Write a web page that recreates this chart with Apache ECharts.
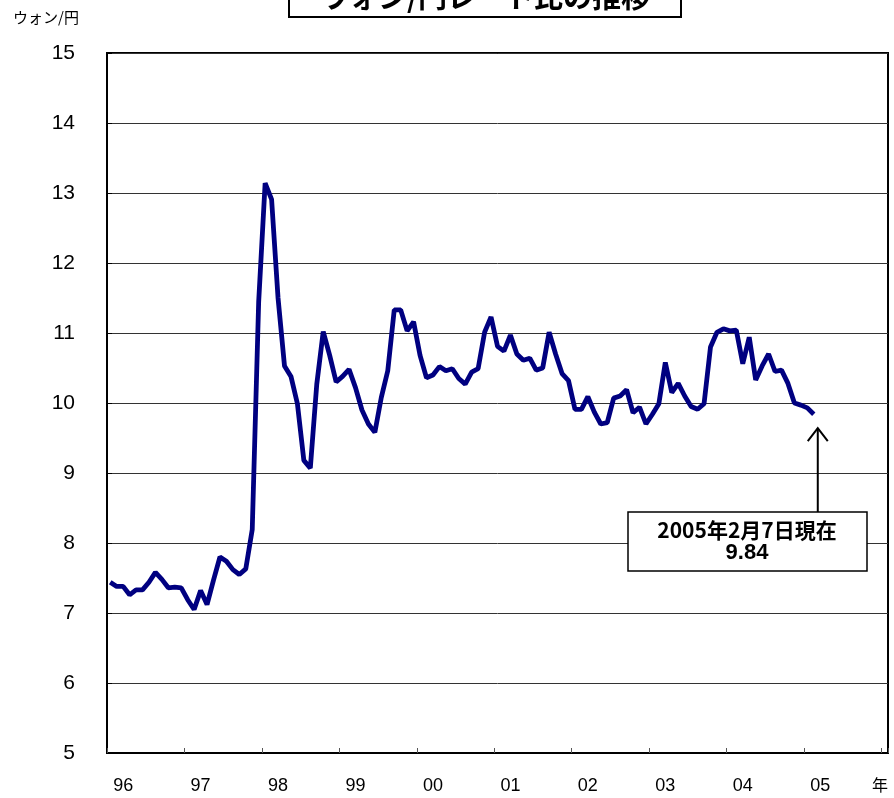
<!DOCTYPE html>
<html>
<head>
<meta charset="utf-8">
<script src="https://cdn.jsdelivr.net/npm/echarts@6/dist/echarts.min.js"></script>
<style>
  html, body { margin: 0; padding: 0; background: #fff; }
  #chart { width: 894px; height: 798px; }
</style>
</head>
<body>
<div id="chart"></div>
<script>
// 年ラベル (x軸)
const years = ['96', '97', '98', '99', '00', '01', '02', '03', '04', '05']

// ウォン/円 月次 (1996年1月〜2005年2月)
const rate1996 = [7.44, 7.38, 7.38, 7.26, 7.33, 7.33, 7.44, 7.58, 7.48, 7.36, 7.37, 7.36]
const rate1997 = [7.19, 7.05, 7.32, 7.12, 7.47, 7.80, 7.74, 7.62, 7.55, 7.63, 8.19, 11.45]
const rate1998 = [13.14, 12.91, 11.50, 10.53, 10.38, 9.99, 9.18, 9.07, 10.27, 11.02, 10.68, 10.30]
const rate1999 = [10.38, 10.48, 10.22, 9.90, 9.70, 9.58, 10.08, 10.46, 11.33, 11.33, 11.03, 11.16]
const rate2000 = [10.68, 10.36, 10.40, 10.52, 10.46, 10.49, 10.35, 10.27, 10.44, 10.49, 11.01, 11.23]
const rate2001 = [10.81, 10.74, 10.97, 10.70, 10.61, 10.64, 10.47, 10.50, 11.01, 10.70, 10.42, 10.32]
const rate2002 = [9.91, 9.91, 10.09, 9.87, 9.70, 9.72, 10.07, 10.10, 10.19, 9.86, 9.94, 9.70]
const rate2003 = [9.84, 9.99, 10.58, 10.15, 10.28, 10.10, 9.95, 9.91, 9.99, 10.80, 11.01, 11.06]
const rate2004 = [11.03, 11.04, 10.56, 10.94, 10.33, 10.53, 10.70, 10.45, 10.47, 10.28, 10.00, 9.97]
const rate2005 = [9.93, 9.84]

const yTicks = [5, 6, 7, 8, 9, 10, 11, 12, 13, 14, 15]

const rates = [].concat(rate1996, rate1997, rate1998, rate1999, rate2000,
  rate2001, rate2002, rate2003, rate2004, rate2005)

// 1996/01 〜 2006/01 の月カテゴリ
let months = []
for (let y = 1996; y <= 2006; y++) {
  for (let m = 1; m <= 12; m++) {
    if (y === 2006 && m > 1) break
    months.push(y + '/' + (m < 10 ? '0' + m : m))
  }
}

const numFont = '"Liberation Sans Narrow", "Liberation Sans", Arial, sans-serif'
const jpFont = '"Noto Sans CJK JP", sans-serif'

let chart = echarts.init(document.getElementById('chart'))

chart.setOption({
  animation: false,
  backgroundColor: '#fff',
  grid: {
    left: 107,
    right: 6,
    top: 53,
    bottom: 45,
    show: true,
    borderColor: '#000',
    borderWidth: 2
  },
  xAxis: {
    type: 'category',
    data: months,
    boundaryGap: true,
    axisLine: { lineStyle: { color: '#000', width: 2 } },
    axisTick: {
      show: true,
      inside: true,
      length: 5,
      interval: function (i) { return i % 12 === 0 },
      lineStyle: { color: '#555' }
    },
    axisLabel: {
      interval: function (i) { return i % 12 === 2 },
      formatter: function (v, i) { return years[Math.floor(i / 12)] || '' },
      color: '#000',
      fontSize: 18,
      fontFamily: numFont,
      margin: 24
    },
    splitLine: { show: false }
  },
  yAxis: {
    type: 'value',
    min: yTicks[0],
    max: yTicks[yTicks.length - 1],
    interval: 1,
    axisLine: { show: true, lineStyle: { color: '#000', width: 2 } },
    axisTick: { show: true, inside: true, length: 5, lineStyle: { color: '#000' } },
    axisLabel: {
      color: '#000',
      fontSize: 21,
      fontFamily: numFont,
      margin: 32
    },
    splitLine: { lineStyle: { color: '#333', width: 1 } }
  },
  series: [
    {
      type: 'line',
      data: rates,
      showSymbol: false,
      lineStyle: { color: '#000080', width: 4.8 },
      itemStyle: { color: '#000080' }
    }
  ]
})

// 最新値への矢印と注記
let last = chart.convertToPixel({ seriesIndex: 0 }, [rates.length - 1, rates[rates.length - 1]])
let ax = last[0] + 4
let tipY = last[1] + 14

chart.setOption({
  graphic: [
    {
      type: 'rect',
      shape: { x: 289, y: -20, width: 392, height: 37 },
      style: { fill: '#fff', stroke: '#000', lineWidth: 2 }
    },
    {
      type: 'text',
      x: 485,
      y: -3,
      style: {
        text: 'ウォン/円レート比の推移',
        font: 'bold 29px ' + jpFont,
        fill: '#000',
        align: 'center',
        verticalAlign: 'middle'
      }
    },
    {
      type: 'text',
      x: 13,
      y: 10,
      style: { text: 'ウォン/円', font: '15px ' + jpFont, fill: '#000' }
    },
    {
      type: 'text',
      x: 872,
      y: 777,
      style: { text: '年', font: '16px ' + jpFont, fill: '#000' }
    },
    {
      type: 'polyline',
      shape: { points: [[ax, tipY], [ax, 512]] },
      style: { stroke: '#000', lineWidth: 2, fill: null }
    },
    {
      type: 'polyline',
      shape: { points: [[ax - 10, tipY + 13], [ax, tipY], [ax + 10, tipY + 13]] },
      style: { stroke: '#000', lineWidth: 2, fill: null }
    },
    {
      type: 'rect',
      shape: { x: 628, y: 512, width: 239, height: 59 },
      style: { fill: '#fff', stroke: '#000', lineWidth: 1.5 }
    },
    {
      type: 'text',
      x: 747,
      y: 530,
      style: {
        text: '2005年2月7日現在',
        font: 'bold 21px ' + jpFont,
        fill: '#000',
        align: 'center',
        verticalAlign: 'middle'
      }
    },
    {
      type: 'text',
      x: 747,
      y: 553,
      style: {
        text: rates[rates.length - 1].toFixed(2),
        font: 'bold 22px ' + numFont,
        fill: '#000',
        align: 'center',
        verticalAlign: 'middle'
      }
    }
  ]
})
</script>
</body>
</html>
